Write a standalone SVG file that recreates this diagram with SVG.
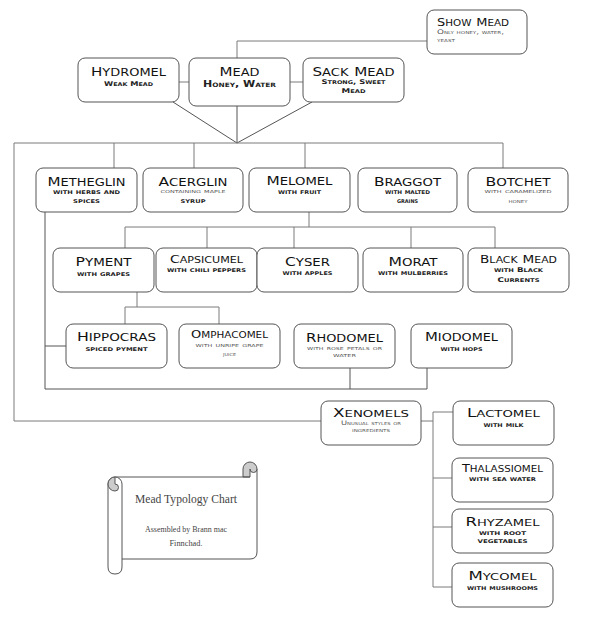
<svg xmlns="http://www.w3.org/2000/svg" width="591" height="640" viewBox="0 0 591 640">
<style>
.bg{fill:#fff}
.box{fill:#fff;stroke:#555;stroke-width:1}
.con{fill:none;stroke:#7a7a7a;stroke-width:1}
.dia{fill:none;stroke:#555;stroke-width:1}
text{font-family:"DejaVu Sans","Liberation Sans",sans-serif;fill:#111;font-variant:small-caps;text-anchor:middle}
.t{font-size:15px}
.t .u{font-size:12.8px}
.t3{font-size:13.2px}
.t3 .u{font-size:11.4px}
.t2{font-size:11.6px}
.t2 .u{font-size:10px}
.s{font-size:6.5px;font-weight:bold;fill:#222}
.sl{font-size:6.3px;font-weight:normal;fill:#555}
.sb{font-size:9px;font-weight:bold;fill:#222}
.st{text-anchor:start}
.scr{font-family:"Liberation Serif","DejaVu Serif",serif;font-variant:normal;fill:#444}
</style>
<rect class="bg" x="0" y="0" width="591" height="640"/>
<g id="connectors">
<path class="con" d="M427,41 H237 V58"/>
<path class="con" d="M179,82 H189 M290,82 H303"/>
<path class="dia" d="M173,102 L237,143 M237,106 V143 M312,102 L237,143"/>
<path class="con" d="M14,143 H503 V168 M114,143 V168 M194,143 V168 M305,143 V168"/>
<path class="con" d="M14,143 V421 H321"/>
<path class="con" d="M309,212 V227 M125,227 H495 M125,227 V248 M207,227 V248 M294,227 V248 M411,227 V248 M495,227 V248"/>
<path class="con" d="M137,292 V307 M125,307 H219 M125,307 V324 M219,307 V324"/>
<path class="dia" d="M45,212 V389 H427 M45,346 H66 M350,368 V389 M427,368 V389"/>
<path class="con" d="M421,421 H433 M433,412 V587 M433,412 H453 M433,478 H452 M433,527 H452 M433,587 H452"/>
</g>
<g id="show-mead">
<rect class="box" x="427" y="10" width="100" height="44" rx="7"/>
<text class="t2 st" x="437" y="26" textLength="72" lengthAdjust="spacingAndGlyphs"><tspan class="u">S</tspan>how <tspan class="u">M</tspan>ead</text>
<text class="sl st" x="437" y="34" textLength="67" lengthAdjust="spacingAndGlyphs">Only honey, water,</text>
<text class="sl st" x="437" y="42" textLength="18" lengthAdjust="spacingAndGlyphs">yeast</text>
</g>
<g id="hydromel">
<rect class="box" x="78" y="58" width="101" height="44" rx="7"/>
<text class="t" x="128.5" y="76" textLength="75" lengthAdjust="spacingAndGlyphs"><tspan class="u">H</tspan>ydromel</text>
<text class="s" x="128.5" y="86" textLength="49" lengthAdjust="spacingAndGlyphs">Weak Mead</text>
</g>
<g id="mead">
<rect class="box" x="189" y="58" width="101" height="48" rx="7"/>
<text class="t" x="239.5" y="76" textLength="40" lengthAdjust="spacingAndGlyphs"><tspan class="u">M</tspan>ead</text>
<text class="sb" x="239.5" y="87" textLength="73" lengthAdjust="spacingAndGlyphs">Honey, Water</text>
</g>
<g id="sack-mead">
<rect class="box" x="303" y="58" width="101" height="44" rx="7"/>
<text class="t" x="353.5" y="76" textLength="82" lengthAdjust="spacingAndGlyphs"><tspan class="u">S</tspan>ack <tspan class="u">M</tspan>ead</text>
<text class="s" x="353.5" y="84" textLength="64" lengthAdjust="spacingAndGlyphs">Strong, Sweet</text>
<text class="s" x="353.5" y="93" textLength="24" lengthAdjust="spacingAndGlyphs">Mead</text>
</g>
<g id="metheglin">
<rect class="box" x="36" y="168" width="101" height="44" rx="7"/>
<text class="t" x="86.5" y="186" textLength="78" lengthAdjust="spacingAndGlyphs"><tspan class="u">M</tspan>etheglin</text>
<text class="s" x="86.5" y="194" textLength="67" lengthAdjust="spacingAndGlyphs">with herbs and</text>
<text class="s" x="86.5" y="203" textLength="27" lengthAdjust="spacingAndGlyphs">spices</text>
</g>
<g id="acerglin">
<rect class="box" x="143" y="168" width="100" height="44" rx="7"/>
<text class="t" x="193" y="186" textLength="69" lengthAdjust="spacingAndGlyphs"><tspan class="u">A</tspan>cerglin</text>
<text class="sl" x="193" y="193" textLength="65" lengthAdjust="spacingAndGlyphs">containing maple</text>
<text class="s" x="193" y="203" textLength="25" lengthAdjust="spacingAndGlyphs">syrup</text>
</g>
<g id="melomel">
<rect class="box" x="249" y="168" width="101" height="44" rx="7"/>
<text class="t" x="299.5" y="185" textLength="66" lengthAdjust="spacingAndGlyphs"><tspan class="u">M</tspan>elomel</text>
<text class="s" x="299.5" y="194" textLength="43" lengthAdjust="spacingAndGlyphs">with fruit</text>
</g>
<g id="braggot">
<rect class="box" x="358" y="168" width="99" height="44" rx="7"/>
<text class="t" x="407.5" y="186" textLength="67" lengthAdjust="spacingAndGlyphs"><tspan class="u">B</tspan>raggot</text>
<text class="s" x="407.5" y="194" textLength="45" lengthAdjust="spacingAndGlyphs">with malted</text>
<text class="s" x="407.5" y="203" textLength="21" lengthAdjust="spacingAndGlyphs">grains</text>
</g>
<g id="botchet">
<rect class="box" x="468" y="168" width="100" height="44" rx="7"/>
<text class="t" x="518" y="186" textLength="65" lengthAdjust="spacingAndGlyphs"><tspan class="u">B</tspan>otchet</text>
<text class="sl" x="518" y="193" textLength="67" lengthAdjust="spacingAndGlyphs">with caramelized</text>
<text class="sl" x="518" y="203" textLength="19" lengthAdjust="spacingAndGlyphs">honey</text>
</g>
<g id="pyment">
<rect class="box" x="53" y="248" width="101" height="44" rx="7"/>
<text class="t" x="103.5" y="266" textLength="56" lengthAdjust="spacingAndGlyphs"><tspan class="u">P</tspan>yment</text>
<text class="s" x="103.5" y="276" textLength="53" lengthAdjust="spacingAndGlyphs">with grapes</text>
</g>
<g id="capsicumel">
<rect class="box" x="156" y="248" width="101" height="44" rx="7"/>
<text class="t2" x="206.5" y="263" textLength="73" lengthAdjust="spacingAndGlyphs"><tspan class="u">C</tspan>apsicumel</text>
<text class="s" x="206.5" y="272" textLength="79" lengthAdjust="spacingAndGlyphs">with chili peppers</text>
</g>
<g id="cyser">
<rect class="box" x="257" y="248" width="101" height="44" rx="7"/>
<text class="t" x="307.5" y="266" textLength="45" lengthAdjust="spacingAndGlyphs"><tspan class="u">C</tspan>yser</text>
<text class="s" x="307.5" y="275" textLength="50" lengthAdjust="spacingAndGlyphs">with apples</text>
</g>
<g id="morat">
<rect class="box" x="363" y="248" width="100" height="44" rx="7"/>
<text class="t" x="413" y="266" textLength="49" lengthAdjust="spacingAndGlyphs"><tspan class="u">M</tspan>orat</text>
<text class="s" x="413" y="275" textLength="70" lengthAdjust="spacingAndGlyphs">with mulberries</text>
</g>
<g id="black-mead">
<rect class="box" x="468" y="248" width="101" height="44" rx="7"/>
<text class="t2" x="518.5" y="263" textLength="77" lengthAdjust="spacingAndGlyphs"><tspan class="u">B</tspan>lack <tspan class="u">M</tspan>ead</text>
<text class="s" x="518.5" y="272" textLength="49" lengthAdjust="spacingAndGlyphs">with Black</text>
<text class="s" x="518.5" y="282" textLength="42" lengthAdjust="spacingAndGlyphs">Currents</text>
</g>
<g id="hippocras">
<rect class="box" x="66" y="324" width="101" height="44" rx="7"/>
<text class="t" x="116.5" y="341" textLength="79" lengthAdjust="spacingAndGlyphs"><tspan class="u">H</tspan>ippocras</text>
<text class="s" x="116.5" y="351" textLength="62" lengthAdjust="spacingAndGlyphs">spiced pyment</text>
</g>
<g id="omphacomel">
<rect class="box" x="179" y="324" width="101" height="44" rx="7"/>
<text class="t2" x="229.5" y="338" textLength="77" lengthAdjust="spacingAndGlyphs"><tspan class="u">O</tspan>mphacomel</text>
<text class="sl" x="229.5" y="347" textLength="68" lengthAdjust="spacingAndGlyphs">with unripe grape</text>
<text class="sl" x="229.5" y="356" textLength="13" lengthAdjust="spacingAndGlyphs">juice</text>
</g>
<g id="rhodomel">
<rect class="box" x="294" y="324" width="101" height="44" rx="7"/>
<text class="t" x="344.5" y="342" textLength="77" lengthAdjust="spacingAndGlyphs"><tspan class="u">R</tspan>hodomel</text>
<text class="sl" x="344.5" y="350" textLength="75" lengthAdjust="spacingAndGlyphs">with rose petals or</text>
<text class="sl" x="344.5" y="357" textLength="23" lengthAdjust="spacingAndGlyphs">water</text>
</g>
<g id="miodomel">
<rect class="box" x="411" y="324" width="101" height="44" rx="7"/>
<text class="t" x="461.5" y="341" textLength="73" lengthAdjust="spacingAndGlyphs"><tspan class="u">M</tspan>iodomel</text>
<text class="s" x="461.5" y="351" textLength="42" lengthAdjust="spacingAndGlyphs">with hops</text>
</g>
<g id="xenomels">
<rect class="box" x="321" y="401" width="100" height="44" rx="7"/>
<text class="t3" x="371" y="417" textLength="76" lengthAdjust="spacingAndGlyphs"><tspan class="u">X</tspan>enomels</text>
<text class="sl" x="371" y="425" textLength="60" lengthAdjust="spacingAndGlyphs">Unusual styles or</text>
<text class="sl" x="371" y="432" textLength="38" lengthAdjust="spacingAndGlyphs">ingredients</text>
</g>
<g id="lactomel">
<rect class="box" x="453" y="401" width="101" height="44" rx="7"/>
<text class="t3" x="503.5" y="417" textLength="73" lengthAdjust="spacingAndGlyphs"><tspan class="u">L</tspan>actomel</text>
<text class="s" x="503.5" y="427" textLength="40" lengthAdjust="spacingAndGlyphs">with milk</text>
</g>
<g id="thalassiomel">
<rect class="box" x="452" y="458" width="101" height="44" rx="7"/>
<text class="t2" x="502.5" y="472" textLength="81" lengthAdjust="spacingAndGlyphs"><tspan class="u">T</tspan>halassiomel</text>
<text class="s" x="502.5" y="481" textLength="67" lengthAdjust="spacingAndGlyphs">with sea water</text>
</g>
<g id="rhyzamel">
<rect class="box" x="452" y="509" width="101" height="44" rx="7"/>
<text class="t3" x="502.5" y="526" textLength="74" lengthAdjust="spacingAndGlyphs"><tspan class="u">R</tspan>hyzamel</text>
<text class="s" x="502.5" y="535" textLength="47" lengthAdjust="spacingAndGlyphs">with root</text>
<text class="s" x="502.5" y="543" textLength="50" lengthAdjust="spacingAndGlyphs">vegetables</text>
</g>
<g id="mycomel">
<rect class="box" x="452" y="563" width="101" height="44" rx="7"/>
<text class="t3" x="502.5" y="580" textLength="68" lengthAdjust="spacingAndGlyphs"><tspan class="u">M</tspan>ycomel</text>
<text class="s" x="502.5" y="590" textLength="71" lengthAdjust="spacingAndGlyphs">with mushrooms</text>
</g>
<g id="title-scroll">
<path class="box" d="M115,477 H243 M257,469 V552 Q257,559 250,559 H122"/>
<path class="box" d="M243,477 V469 A7,7 0 1 1 257,469 A3.5,3.5 0 0 1 250,469 V477 Z" style="fill:#ccc"/>
<path class="box" d="M243,477 H250" />
<path class="box" d="M108,484 V567 Q108,574 115,574 Q122,574 122,567 V484 A7,7 0 0 0 108,484 Z"/>
<path class="box" d="M115,477 A7,7 0 0 0 115,491 A3.5,3.5 0 0 0 115,484 Z" style="fill:#ccc"/>
<text class="scr" x="186" y="503" font-size="12" textLength="102" lengthAdjust="spacingAndGlyphs">Mead Typology Chart</text>
<text class="scr" x="186" y="532" font-size="9" textLength="82" lengthAdjust="spacingAndGlyphs">Assembled by Brann mac</text>
<text class="scr" x="186" y="546" font-size="9" textLength="33" lengthAdjust="spacingAndGlyphs">Finnchad.</text>
</g>
</svg>
